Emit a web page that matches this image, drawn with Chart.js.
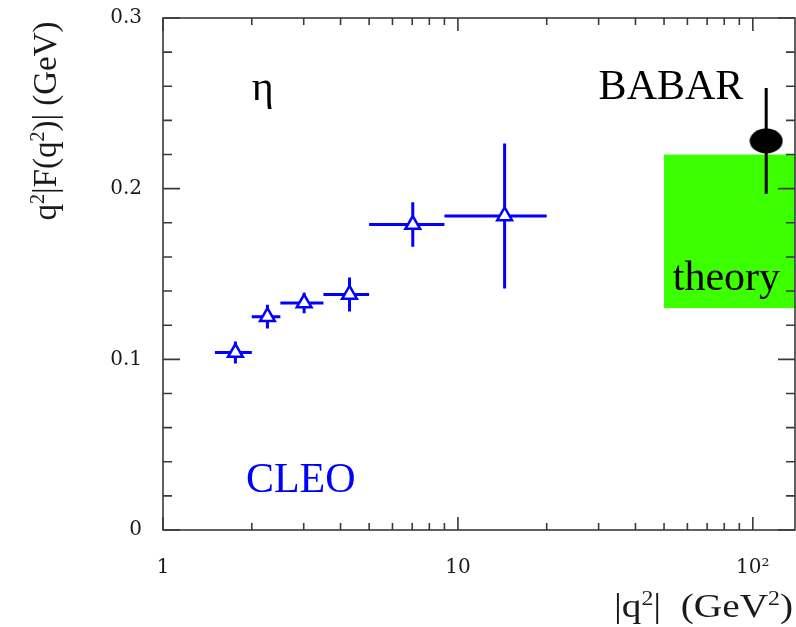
<!DOCTYPE html>
<html>
<head>
<meta charset="utf-8">
<script src="https://cdn.jsdelivr.net/npm/chart.js@4.4.1/dist/chart.umd.min.js"></script>
<style>
  html, body { margin: 0; padding: 0; background: #fff; }
  canvas { display: block; }
</style>
</head>
<body>
<canvas id="formFactorChart" width="796" height="627"></canvas>
<script>
// CLEO points (eta)
const cleoQ2 = [1.76, 2.26, 3.01, 4.29, 7.03, 14.4];
const cleoQ2Low = [1.5, 2.0, 2.5, 3.5, 5.0, 9.0];
const cleoQ2High = [2.0, 2.5, 3.5, 5.0, 9.0, 20.0];
const cleoF = [0.104, 0.125, 0.133, 0.138, 0.179, 0.184];
const cleoErr = [0.0064, 0.007, 0.006, 0.010, 0.013, 0.0425];

// BABAR point
const babarQ2 = [111];
const babarF = [0.228];
const babarErr = [0.031];

// theory band: q2 from 50 up, F between 0.13 and 0.22
const theoryQ2 = [50, 139];
const theoryF = [0.13, 0.22];

// axes
const xTickLabels = [1, 10, 100];
const xMinorTicks = [2, 3, 4, 5, 6, 7, 8, 9, 20, 30, 40, 50, 60, 70, 80, 90];
const yTickLabels = [0, 0.1, 0.2, 0.3];
const yMinorTicks = [0.02, 0.04, 0.06, 0.08, 0.12, 0.14, 0.16, 0.18, 0.22, 0.24, 0.26, 0.28];

const SERIF = "'Liberation Serif', 'Times New Roman', serif";
const BLUE = '#0000ff';

// black ellipse marker for BABAR
const babarMarker = document.createElement('canvas');
babarMarker.width = 34;
babarMarker.height = 26;
(function () {
    const c = babarMarker.getContext('2d');
    c.fillStyle = '#000';
    c.beginPath();
    c.ellipse(17, 13, 16.5, 12.5, 0, 0, Math.PI * 2);
    c.fill();
})();

function drawRich(ctx, parts, x, y, align, size) {
    const supSize = Math.round(size * 0.6);
    let w = 0;
    parts.forEach(([t, sup]) => {
        ctx.font = `${sup ? supSize : size}px ${SERIF}`;
        w += ctx.measureText(t).width;
    });
    let cx = align === 'right' ? x - w : align === 'center' ? x - w / 2 : x;
    ctx.textAlign = 'left';
    parts.forEach(([t, sup]) => {
        ctx.font = `${sup ? supSize : size}px ${SERIF}`;
        ctx.fillText(t, cx, sup ? y - size * 0.37 : y);
        cx += ctx.measureText(t).width;
    });
}

// no extra label padding around the plot box
function noPad(s) {
    s.paddingTop = 0;
    s.paddingBottom = 0;
    s.paddingLeft = 0;
    s.paddingRight = 0;
}

const bandAndErrors = {
    id: 'bandAndErrors',
    beforeDatasetsDraw(chart) {
        const { ctx, scales: { x, y } } = chart;
        ctx.save();
        // theory band
        const bx0 = x.getPixelForValue(theoryQ2[0]);
        const bx1 = x.getPixelForValue(theoryQ2[1]);
        const by0 = y.getPixelForValue(theoryF[1]);
        const by1 = y.getPixelForValue(theoryF[0]);
        ctx.fillStyle = '#3cff00';
        ctx.fillRect(bx0, by0, bx1 - bx0, by1 - by0);

        // CLEO error bars
        ctx.strokeStyle = BLUE;
        ctx.lineWidth = 3;
        ctx.beginPath();
        cleoQ2.forEach((q, i) => {
            const py = y.getPixelForValue(cleoF[i]);
            const px = x.getPixelForValue(q);
            ctx.moveTo(x.getPixelForValue(cleoQ2Low[i]), py);
            ctx.lineTo(x.getPixelForValue(cleoQ2High[i]), py);
            ctx.moveTo(px, y.getPixelForValue(cleoF[i] - cleoErr[i]));
            ctx.lineTo(px, y.getPixelForValue(cleoF[i] + cleoErr[i]));
        });
        ctx.stroke();

        // BABAR error bar
        ctx.strokeStyle = '#000';
        ctx.beginPath();
        babarQ2.forEach((q, i) => {
            const px = x.getPixelForValue(q);
            ctx.moveTo(px, y.getPixelForValue(babarF[i] - babarErr[i]));
            ctx.lineTo(px, y.getPixelForValue(babarF[i] + babarErr[i]));
        });
        ctx.stroke();
        ctx.restore();
    }
};

const frameAndText = {
    id: 'frameAndText',
    afterDatasetsDraw(chart) {
        const { ctx, chartArea: a, scales: { x, y } } = chart;
        ctx.save();
        ctx.strokeStyle = '#3a3a3a';
        ctx.lineWidth = 1.6;
        ctx.strokeRect(a.left, a.top, a.right - a.left, a.bottom - a.top);

        ctx.beginPath();
        const xt = (v, len) => {
            const px = x.getPixelForValue(v);
            ctx.moveTo(px, a.bottom); ctx.lineTo(px, a.bottom - len);
            ctx.moveTo(px, a.top); ctx.lineTo(px, a.top + len);
        };
        const yt = (v, len) => {
            const py = y.getPixelForValue(v);
            ctx.moveTo(a.left, py); ctx.lineTo(a.left + len, py);
            ctx.moveTo(a.right, py); ctx.lineTo(a.right - len, py);
        };
        xTickLabels.forEach(v => xt(v, 13));
        xMinorTicks.forEach(v => xt(v, 7));
        yTickLabels.forEach(v => yt(v, 17));
        yMinorTicks.forEach(v => yt(v, 9));
        ctx.stroke();

        // labels inside the plot
        ctx.textBaseline = 'alphabetic';
        ctx.textAlign = 'left';
        ctx.font = `42px ${SERIF}`;
        ctx.fillStyle = '#000';
        ctx.fillText('\u03b7', x.getPixelForValue(2.0), y.getPixelForValue(0.252));
        ctx.fillText('BABAR', x.getPixelForValue(30), y.getPixelForValue(0.2525));
        ctx.fillText('theory', x.getPixelForValue(53.5), y.getPixelForValue(0.1406));
        ctx.fillStyle = BLUE;
        ctx.fillText('CLEO', x.getPixelForValue(1.91), y.getPixelForValue(0.0223));

        // axis titles
        ctx.fillStyle = '#1a1a1a';
        ctx.save();
        ctx.translate(793, 617);
        ctx.scale(1.19, 1);
        drawRich(ctx, [['|q', false], ['2', true], ['|  (GeV', false], ['2', true], [')', false]],
            0, 0, 'right', 33);
        ctx.restore();
        ctx.translate(56, 121);
        ctx.rotate(-Math.PI / 2);
        drawRich(ctx, [['q', false], ['2', true], ['|F(q', false], ['2', true], [')| (GeV)', false]],
            0, 0, 'center', 33);
        ctx.restore();
    }
};

const ctx = document.getElementById('formFactorChart').getContext('2d');
new Chart(ctx, {
    type: 'scatter',
    data: {
        datasets: [{
            label: 'CLEO',
            data: cleoQ2.map((q, i) => ({ x: q, y: cleoF[i] })),
            pointStyle: 'triangle',
            pointRadius: 8.5,
            borderColor: BLUE,
            backgroundColor: '#ffffff',
            borderWidth: 2.5
        }, {
            label: 'BABAR',
            data: babarQ2.map((q, i) => ({ x: q, y: babarF[i] })),
            pointStyle: babarMarker,
            pointRadius: 14
        }]
    },
    options: {
        responsive: false,
        animation: false,
        layout: { autoPadding: false, padding: { top: 18, right: 1, left: 0, bottom: 0 } },
        plugins: { legend: { display: false }, tooltip: { enabled: false } },
        scales: {
            x: {
                type: 'logarithmic',
                min: 1,
                max: 139,
                afterBuildTicks: s => { s.ticks = xTickLabels.map(v => ({ value: v })); },
                afterFit: s => { s.height = 97; noPad(s); },
                grid: { display: false, drawTicks: false },
                border: { display: false },
                ticks: {
                    padding: 26,
                    color: '#1a1a1a',
                    font: { family: "'DejaVu Serif', serif", size: 20 },
                    callback: v => (v === 100 ? '10\u00b2' : String(v))
                }
            },
            y: {
                min: 0,
                max: 0.3,
                afterBuildTicks: s => { s.ticks = yTickLabels.map(v => ({ value: v })); },
                afterFit: s => { s.width = 163; noPad(s); },
                grid: { display: false, drawTicks: false },
                border: { display: false },
                ticks: {
                    padding: 21,
                    color: '#1a1a1a',
                    font: { family: "'DejaVu Serif', serif", size: 20 },
                    callback: v => String(v)
                }
            }
        }
    },
    plugins: [bandAndErrors, frameAndText]
});
</script>
</body>
</html>
